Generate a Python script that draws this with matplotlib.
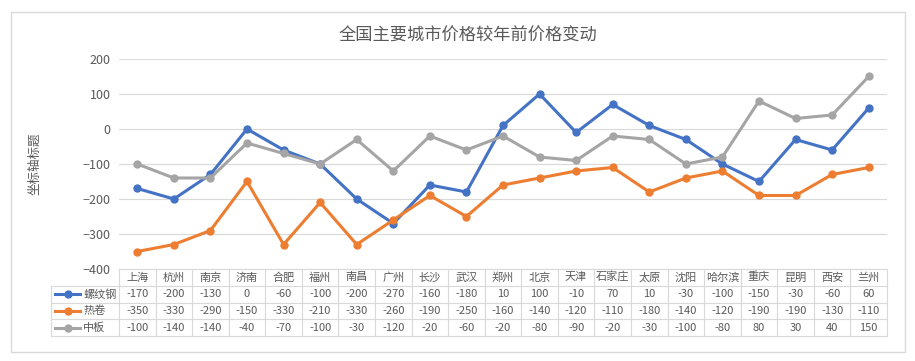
import matplotlib.pyplot as plt
import matplotlib.transforms as mtransforms
from matplotlib.lines import Line2D
from matplotlib.patches import Rectangle

plt.rcParams["font.family"] = ["Noto Sans CJK SC", "DejaVu Sans"]

cities = ["上海", "杭州", "南京", "济南", "合肥", "福州", "南昌", "广州", "长沙", "武汉", "郑州",
          "北京", "天津", "石家庄", "太原", "沈阳", "哈尔滨", "重庆", "昆明", "西安", "兰州"]
rebar = [-170, -200, -130, 0, -60, -100, -200, -270, -160, -180, 10,
         100, -10, 70, 10, -30, -100, -150, -30, -60, 60]
hot_coil = [-350, -330, -290, -150, -330, -210, -330, -260, -190, -250, -160,
            -140, -120, -110, -180, -140, -120, -190, -190, -130, -110]
plate = [-100, -140, -140, -40, -70, -100, -30, -120, -20, -60, -20,
         -80, -90, -20, -30, -100, -80, 80, 30, 40, 150]

series = [("螺纹钢", rebar, "#4472C4"), ("热卷", hot_coil, "#ED7D31"), ("中板", plate, "#A5A5A5")]
yticks = [-400, -300, -200, -100, 0, 100, 200]

W, H = 915, 361
fig = plt.figure(figsize=(W / 100, H / 100), dpi=100)
ax = fig.add_axes([119 / W, 92 / H, 768 / W, 210 / H])

# chart border
fig.patches.append(Rectangle((11 / W, 9 / H), 894 / W, 340 / H, transform=fig.transFigure,
                             fill=False, edgecolor="#d9d9d9", linewidth=1))

x = list(range(len(cities)))
for name, vals, color in series:
    ax.plot(x, vals, color=color, linewidth=2.2, marker="o", markersize=5, zorder=3)

ax.set_xlim(-0.5, len(cities) - 0.5)
ax.set_ylim(-400, 200)
ax.set_yticks(yticks)
ax.set_xticks([])
ax.grid(axis="y", color="#d9d9d9", linewidth=0.8)
ax.set_axisbelow(True)
for s in ax.spines.values():
    s.set_visible(False)
ax.tick_params(axis="y", length=0, labelsize=9, labelcolor="#595959", pad=6)

fig.text(467.5 / W, 1 - 35.5 / H, "全国主要城市价格较年前价格变动", ha="center", va="center",
         fontsize=12.4, color="#595959")
fig.text(35 / W, 1 - 164 / H, "坐标轴标题", rotation=90, ha="center", va="center",
         fontsize=9, color="#595959")

# data table below the axis
tr = mtransforms.blended_transform_factory(ax.transData, ax.transAxes)
rh = 16.8 / 210
grid_c = "#d9d9d9"
n = len(cities)
lab_left = (51 - 119) / 768

# horizontal lines
ax.plot([-0.5, n - 0.5], [0, 0], transform=tr, color=grid_c, lw=0.8, clip_on=False)
for r in range(1, 5):
    ax.plot([lab_left, 1], [-r * rh, -r * rh], transform=ax.transAxes, color=grid_c,
            lw=0.8, clip_on=False)
# vertical lines
for i in range(n + 1):
    ax.plot([i - 0.5, i - 0.5], [0, -4 * rh], transform=tr, color=grid_c, lw=0.8, clip_on=False)
ax.plot([lab_left, lab_left], [-rh, -4 * rh], transform=ax.transAxes, color=grid_c,
        lw=0.8, clip_on=False)

for i, c in enumerate(cities):
    ax.text(i, -0.5 * rh, c, transform=tr, ha="center", va="center", fontsize=8,
            color="#595959", clip_on=False)

for r, (name, vals, color) in enumerate(series, start=1):
    yc = -(r + 0.5) * rh
    ax.add_line(Line2D([(55 - 119) / 768, (80 - 119) / 768], [yc, yc], transform=ax.transAxes,
                       color=color, lw=2.2, clip_on=False))
    ax.add_line(Line2D([(67.5 - 119) / 768], [yc], transform=ax.transAxes, color=color,
                       marker="o", markersize=5, clip_on=False))
    ax.text((83 - 119) / 768, yc, name, transform=ax.transAxes, ha="left", va="center",
            fontsize=8, color="#595959", clip_on=False)
    for i, v in enumerate(vals):
        ax.text(i, yc, str(v), transform=tr, ha="center", va="center", fontsize=8,
                color="#595959", clip_on=False)

fig.savefig("out.png", dpi=100)
